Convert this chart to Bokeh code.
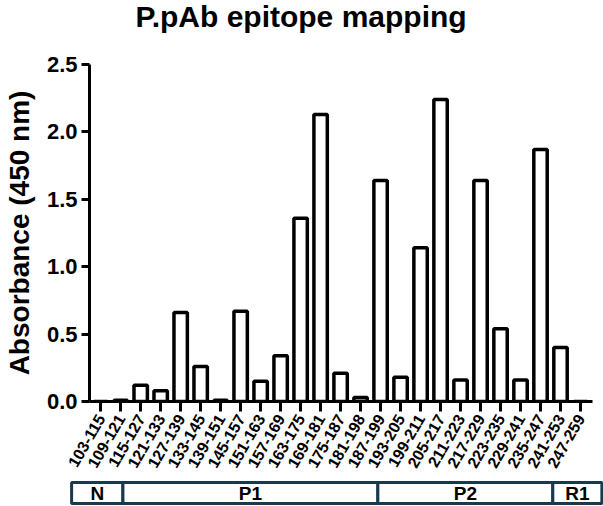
import math
from bokeh.plotting import figure
from bokeh.models import Range1d, FixedTicker, ColumnDataSource
from bokeh.layouts import column, row
from bokeh.embed import file_html
from bokeh.resources import INLINE
from bokeh.core.properties import value

peptides = ["103-115", "109-121", "115-127", "121-133", "127-139", "133-145",
            "139-151", "145-157", "151-163", "157-169", "163-175", "169-181",
            "175-187", "181-198", "187-199", "193-205", "199-211", "205-217",
            "211-223", "217-229", "223-235", "229-241", "235-247", "241-253",
            "247-259"]
absorbance = [0.0, 0.01, 0.12, 0.08, 0.66, 0.26, 0.01, 0.67, 0.15, 0.34,
              1.36, 2.13, 0.21, 0.03, 1.64, 0.18, 1.14, 2.24, 0.16, 1.64,
              0.54, 0.16, 1.87, 0.40, 0.0]
y_ticks = [0.0, 0.5, 1.0, 1.5, 2.0, 2.5]
y_tick_labels = ["0.0", "0.5", "1.0", "1.5", "2.0", "2.5"]

regions = ["N", "P1", "P2", "R1"]
region_start = [-1.2, 1.34, 13.96, 22.62]
region_end = [1.34, 13.96, 22.62, 25.05]

title_text = "P.pAb epitope mapping"

FONT = "Liberation Sans"
idx = list(range(len(peptides)))

# --- title strip ---
tf = figure(width=603, height=52, x_range=Range1d(0, 603), y_range=Range1d(52, 0),
            output_backend="svg", toolbar_location=None, min_border=0,
            x_axis_location=None, y_axis_location=None)
tf.outline_line_color = None
tf.grid.visible = False
tf.text(x=[135], y=[16], text=[title_text], text_align="left",
        text_baseline="alphabetic", text_font=value(FONT),
        text_font_size="30px", text_font_style="bold", text_color="black")

# --- main chart ---
p = figure(width=603, height=426, x_range=Range1d(-0.56, 24.6),
           y_range=Range1d(0, 2.5), output_backend="svg", toolbar_location=None,
           min_border_left=84, min_border_right=11, min_border_top=12,
           min_border_bottom=77)
p.outline_line_color = None
p.grid.visible = False
p.background_fill_color = "white"

src = ColumnDataSource(dict(x=idx, top=absorbance))
p.vbar(x="x", top="top", width=0.67, bottom=0, source=src,
       fill_color="white", line_color="black", line_width=3.5)

ya = p.yaxis[0]
ya.ticker = FixedTicker(ticks=y_ticks)
ya.major_label_overrides = {v: s for v, s in zip(y_ticks, y_tick_labels)}
ya.axis_label = "Absorbance (450 nm)"
ya.axis_label_text_font = FONT
ya.axis_label_text_font_size = "28px"
ya.axis_label_text_font_style = "bold"
ya.axis_label_text_color = "black"
ya.axis_label_standoff = 9
ya.major_label_text_font = FONT
ya.major_label_text_font_size = "22px"
ya.major_label_text_font_style = "bold"
ya.major_label_text_color = "black"
ya.axis_line_width = 3
ya.major_tick_line_width = 3
ya.major_tick_out = 8
ya.major_tick_in = 0
ya.minor_tick_line_color = None
ya.major_label_standoff = 4

xa = p.xaxis[0]
xa.ticker = FixedTicker(ticks=idx)
xa.major_label_overrides = {i: s for i, s in zip(idx, peptides)}
xa.major_label_orientation = math.pi / 3
xa.major_label_text_font = FONT
xa.major_label_text_font_size = "16px"
xa.major_label_text_font_style = "bold"
xa.major_label_text_color = "black"
xa.axis_line_width = 3
xa.major_tick_line_width = 3
xa.major_tick_out = 10
xa.major_tick_in = 0
xa.minor_tick_line_color = None
xa.major_label_standoff = 4

# --- region strip ---
b = figure(width=603, height=28, x_range=Range1d(-4.72, 25.13),
           y_range=Range1d(0, 1), output_backend="svg", toolbar_location=None,
           min_border=0, x_axis_location=None, y_axis_location=None)
b.outline_line_color = None
b.grid.visible = False
rsrc = ColumnDataSource(dict(left=region_start, right=region_end,
                             name=regions,
                             cx=[(a + c) / 2 for a, c in zip(region_start, region_end)]))
b.quad(left="left", right="right", bottom=0.107, top=0.857, source=rsrc,
       fill_color="white", line_color="#173a4e", line_width=3)
b.text(x="cx", y=0.48, text="name", source=rsrc, text_align="center",
       text_baseline="middle", text_font=value(FONT), text_font_size="19px",
       text_font_style="bold", text_color="black")

layout = column(row(tf, spacing=0), p, row(b, spacing=0), spacing=0)
open("out.html", "w").write(file_html(layout, INLINE))
